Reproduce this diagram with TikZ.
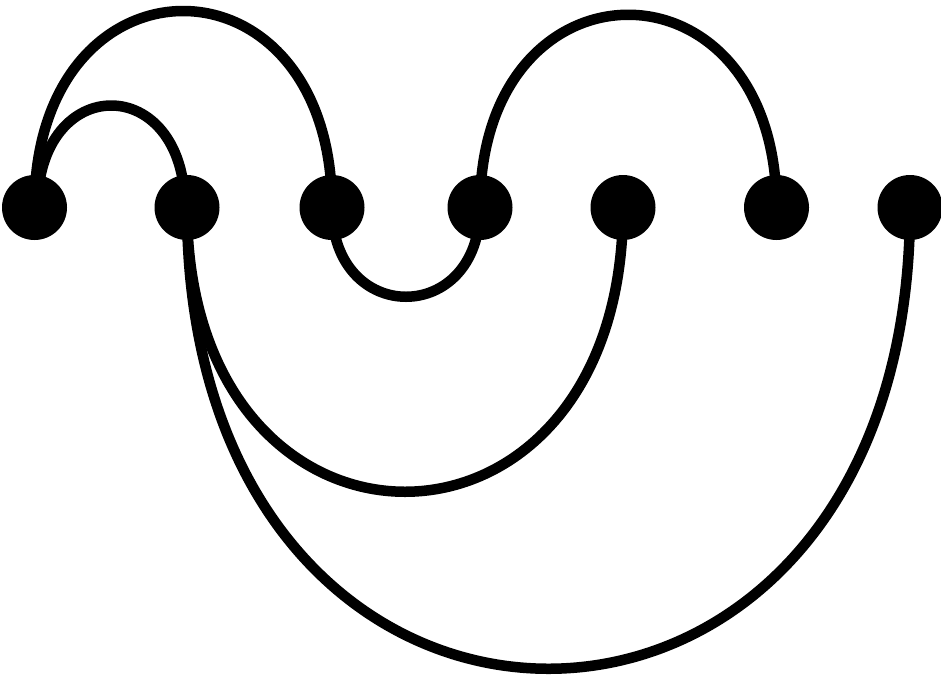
\documentclass[tikz,border=0pt]{standalone}
\usetikzlibrary{backgrounds}
\begin{document}
\begin{tikzpicture}[x=1pt,y=-1pt,
  dot/.style={circle,fill=black,draw=none,minimum size=65pt,inner sep=0pt},
  arc/.style={line width=10.5pt,draw=black}]
\useasboundingbox (0,0) rectangle (941,681);
\node[dot] (n1) at (34.5,207.5) {};
\node[dot] (n2) at (187,207.5) {};
\node[dot] (n3) at (332,207.5) {};
\node[dot] (n4) at (480,207.5) {};
\node[dot] (n5) at (623,207.5) {};
\node[dot] (n6) at (776.5,207.5) {};
\node[dot] (n7) at (910,207.5) {};
\begin{scope}[on background layer]
\draw[arc] (n1.center) .. controls +(0,-262) and +(0,-262) .. (n3.center);
\draw[arc] ([xshift=3pt]n1.center) .. controls +(0,-136) and +(0,-136) .. ([xshift=-2pt]n2.center);
\draw[arc] (n4.center) .. controls +(0,-257) and +(0,-257) .. (n6.center);
\draw[arc] (n3.center) .. controls +(0,119) and +(0,119) .. (n4.center);
\draw[arc] (n2.center) .. controls +(0,379) and +(0,379) .. (n5.center);
\draw[arc] (n2.center) .. controls +(0,615) and +(0,615) .. (n7.center);
\end{scope}
\end{tikzpicture}
\end{document}
